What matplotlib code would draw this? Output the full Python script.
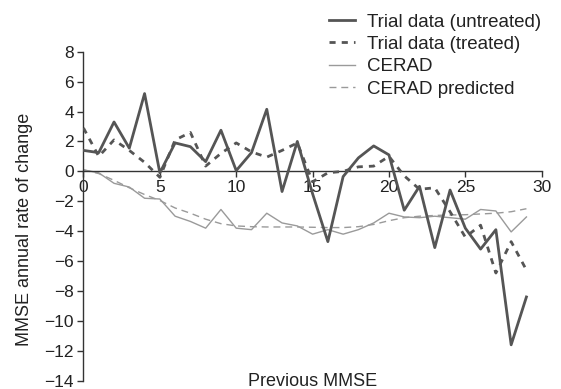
import matplotlib
matplotlib.use("Agg")
from matplotlib import pyplot as plt

plt.rcParams["font.family"] = ["Liberation Sans", "DejaVu Sans"]

previous_mmse = list(range(30))
untreated = [1.4, 1.25, 3.3, 1.55, 5.2, -0.1, 1.9, 1.65, 0.65, 2.75,
             0.05, 1.25, 4.15, -1.35, 2.0, -1.5, -4.7, -0.35, 0.9, 1.7,
             1.1, -2.6, -1.0, -5.1, -1.25, -3.8, -5.2, -3.9, -11.6, -8.4]
treated = [2.9, 1.0, 2.1, 1.4, 0.6, -0.4, 2.1, 2.6, 0.35, 1.2,
           1.9, 1.3, 0.95, 1.4, 1.9, -0.7, -0.1, 0.0, 0.3, 0.35,
           1.0, -0.3, -1.2, -1.1, -2.7, -4.4, -3.6, -6.8, -4.7, -6.6]
cerad = [0.1, -0.1, -0.8, -1.05, -1.8, -1.85, -3.0, -3.35, -3.8, -2.55,
         -3.8, -3.9, -2.8, -3.45, -3.65, -4.2, -3.9, -4.2, -3.9, -3.45,
         -2.8, -3.05, -3.1, -3.0, -3.1, -3.2, -2.55, -2.65, -4.05, -3.05]
cerad_predicted = [0.1, -0.15, -0.6, -1.1, -1.55, -1.95, -2.45, -2.8, -3.2, -3.5,
                   -3.65, -3.7, -3.72, -3.72, -3.72, -3.74, -3.76, -3.76, -3.7, -3.55,
                   -3.3, -3.1, -3.0, -2.95, -2.92, -2.9, -2.85, -2.8, -2.7, -2.5]

fig = plt.figure(figsize=(5.61, 3.89), dpi=100)
ax = fig.add_axes([0.1488, 0.0213, 0.8168, 0.8458])

dark = "#555555"
light = "#9a9a9a"
ax.plot(previous_mmse, cerad, color=light, lw=1.0, label="CERAD", zorder=2)
ax.plot(previous_mmse, cerad_predicted, color=light, lw=1.0, dashes=(5, 3.5),
        label="CERAD predicted", zorder=2)
ax.plot(previous_mmse, treated, color=dark, lw=2.0, dashes=(2.2, 2.2),
        label="Trial data (treated)", zorder=3)
ax.plot(previous_mmse, untreated, color=dark, lw=2.0,
        label="Trial data (untreated)", zorder=4)

ax.set_xlim(0, 30)
ax.set_ylim(-14, 8)
ax.set_xticks(range(0, 31, 5))
ax.set_yticks(range(-14, 9, 2))
ax.set_yticklabels([str(v).replace("-", "\u2212") for v in range(-14, 9, 2)])

for side in ["top", "right"]:
    ax.spines[side].set_visible(False)
ax.spines["bottom"].set_position(("data", 0))
for side in ["bottom", "left"]:
    ax.spines[side].set_color("#333333")
    ax.spines[side].set_linewidth(1.0)
ax.tick_params(direction="out", length=4, width=1.0, color="#333333",
               labelsize=12.5, labelcolor="#222222")
ax.tick_params(axis="x", pad=2)
ax.tick_params(axis="y", pad=3)

fig.text(313 / 561, 1 - 381 / 389, "Previous MMSE", ha="center", va="center",
         fontsize=13, color="#222222")
fig.text(24.5 / 561, 1 - 229 / 389, "MMSE annual rate of change", ha="center",
         va="center", rotation=90, fontsize=13, color="#222222")

handles, labels = ax.get_legend_handles_labels()
order = [3, 2, 0, 1]
fig.legend([handles[i] for i in order], [labels[i] for i in order],
           loc="upper left", bbox_to_anchor=(329 / 561, 1 - 13.5 / 389),
           frameon=False, fontsize=13.5, handlelength=1.4, handletextpad=0.65,
           labelspacing=0.28, borderpad=0, borderaxespad=0,
           labelcolor="#222222")

fig.savefig("out.png", dpi=100)
